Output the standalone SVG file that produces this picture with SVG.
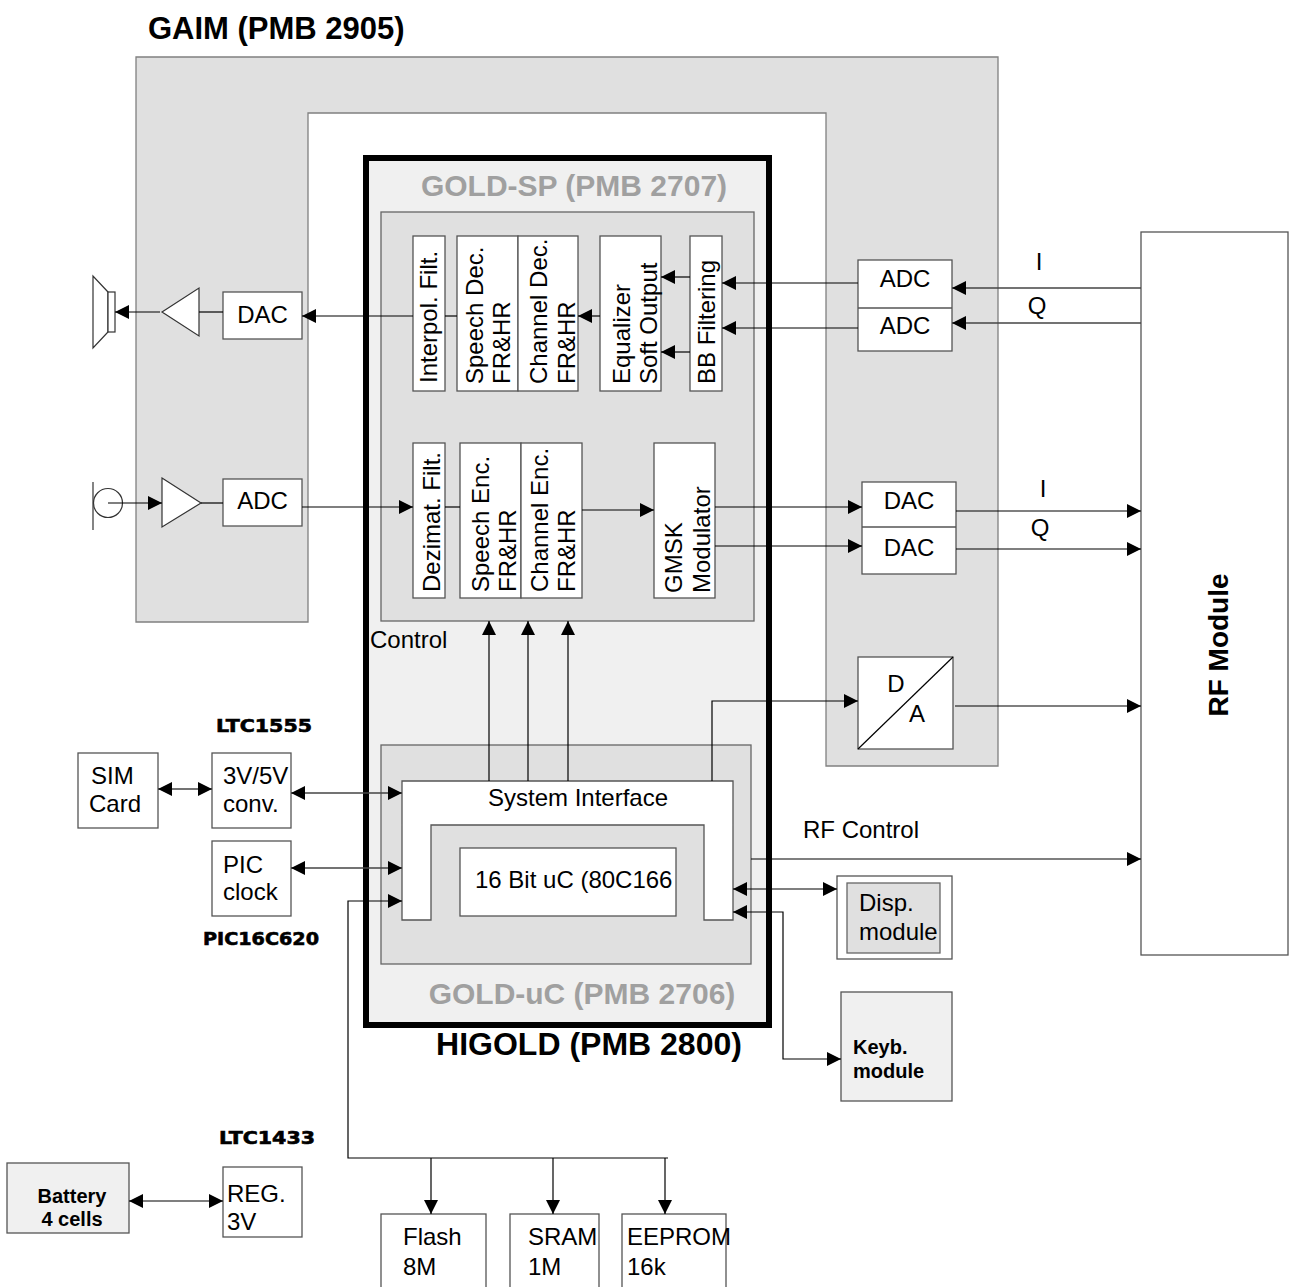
<svg xmlns="http://www.w3.org/2000/svg" width="1290" height="1287" viewBox="0 0 1290 1287">
<defs>
<marker id="ah" viewBox="0 0 14 14" refX="14" refY="7" markerWidth="14" markerHeight="14" markerUnits="userSpaceOnUse" orient="auto-start-reverse"><path d="M0,0 L14,7 L0,14 z" fill="#000"/></marker>
<style>
.t{font-family:"Liberation Sans",Arial,sans-serif;font-size:24px;fill:#000}
.bt{font-family:"Liberation Sans",Arial,sans-serif;font-weight:bold;fill:#000}
.hv{font-family:"DejaVu Sans","Liberation Sans",sans-serif;font-weight:bold;font-size:17px;fill:#000;stroke:#000;stroke-width:0.6}
.gl{font-family:"Liberation Sans",Arial,sans-serif;font-weight:bold;font-size:30px;fill:#a0a0a0}
.box{fill:#fff;stroke:#555;stroke-width:1.3}
.gbox{fill:#e0e0e0;stroke:#666;stroke-width:1.3}
.lbox{fill:#f0f0f0;stroke:#555;stroke-width:1.3}
.c{fill:none;stroke:#000;stroke-width:1.2}
.cg{fill:none;stroke:#444;stroke-width:1.3}
.m{marker-end:url(#ah)}
.mm{marker-start:url(#ah);marker-end:url(#ah)}
</style>
</defs>
<rect width="1290" height="1287" fill="#fff"/>

<g id="gaim">
<path d="M136,57 H998 V766 H826 V113 H308 V622 H136 Z" fill="#e0e0e0" stroke="#808080" stroke-width="1.3"/>
<text x="148" y="39" class="bt" font-size="31">GAIM (PMB 2905)</text>
</g>

<g id="rf-module">
<rect x="1141" y="232" width="147" height="723" class="box"/>
<text transform="translate(1228,645) rotate(-90)" text-anchor="middle" class="bt" font-size="28">RF Module</text>
</g>

<g id="higold">
<rect x="366" y="158" width="403" height="867" fill="#f0f0f0" stroke="#000" stroke-width="6"/>
<text x="589" y="1055" text-anchor="middle" class="bt" font-size="32">HIGOLD (PMB 2800)</text>
</g>

<g id="gold-sp">
<rect x="381" y="212" width="373" height="409" class="gbox"/>
<text x="574" y="196" text-anchor="middle" class="gl">GOLD-SP (PMB 2707)</text>
</g>

<g id="gold-uc">
<rect x="381" y="745" width="370" height="219" class="gbox"/>
<text x="582" y="1004" text-anchor="middle" class="gl">GOLD-uC (PMB 2706)</text>
</g>

<g id="speaker">
<polygon points="108,292 93,276 93,348 108,332" fill="#fff" stroke="#333" stroke-width="1.2"/>
<rect x="108" y="292" width="7" height="40" fill="#fff" stroke="#333" stroke-width="1.2"/>
</g>
<g id="amp-out"><polygon points="162,312 199,288 199,336" fill="#fff" stroke="#333" stroke-width="1.2"/></g>
<g id="dac-left"><rect x="223" y="292" width="79" height="47" class="box"/><text x="262.5" y="323" text-anchor="middle" class="t">DAC</text></g>

<g id="mic">
<line x1="93" y1="482" x2="93" y2="530" stroke="#333" stroke-width="1.2"/>
<circle cx="108" cy="503" r="14.5" fill="#fff" stroke="#333" stroke-width="1.2"/>
</g>
<g id="amp-in"><polygon points="162,478 201,503 162,527" fill="#fff" stroke="#333" stroke-width="1.2"/></g>
<g id="adc-left"><rect x="223" y="479" width="79" height="47" class="box"/><text x="262.5" y="509" text-anchor="middle" class="t">ADC</text></g>

<g id="interpol"><rect x="413" y="236" width="32" height="155" class="box"/><text class="t" transform="translate(437,383) rotate(-90)">Interpol. Filt.</text></g>
<g id="speech-dec"><rect x="457" y="236" width="61" height="155" class="box"/><text class="t" transform="translate(483,384) rotate(-90)">Speech Dec.<tspan x="0" dy="27">FR&amp;HR</tspan></text></g>
<g id="channel-dec"><rect x="518" y="236" width="60" height="155" class="box"/><text class="t" transform="translate(547,384) rotate(-90)">Channel Dec.<tspan x="0" dy="28">FR&amp;HR</tspan></text></g>
<g id="equalizer"><rect x="600" y="236" width="61" height="155" class="box"/><text class="t" transform="translate(630,384) rotate(-90)">Equalizer<tspan x="0" dy="27">Soft Output</tspan></text></g>
<g id="bb-filter"><rect x="690" y="236" width="32" height="155" class="box"/><text class="t" transform="translate(715,384) rotate(-90)">BB Filtering</text></g>

<g id="dezimat"><rect x="413" y="443" width="32" height="155" class="box"/><text class="t" transform="translate(440,592) rotate(-90)">Dezimat. Filt.</text></g>
<g id="speech-enc"><rect x="460" y="443" width="61" height="155" class="box"/><text class="t" transform="translate(489,592) rotate(-90)">Speech Enc.<tspan x="0" dy="27">FR&amp;HR</tspan></text></g>
<g id="channel-enc"><rect x="521" y="443" width="61" height="155" class="box"/><text class="t" transform="translate(548,592) rotate(-90)">Channel Enc.<tspan x="0" dy="27">FR&amp;HR</tspan></text></g>
<g id="gmsk"><rect x="654" y="443" width="61" height="155" class="box"/><text class="t" transform="translate(682,593) rotate(-90)">GMSK<tspan x="0" dy="28">Modulator</tspan></text></g>

<g id="adc-right">
<rect x="858" y="260" width="94" height="91" class="box"/>
<line x1="858" y1="308" x2="952" y2="308" stroke="#555" stroke-width="1.3"/>
<text x="905" y="287" text-anchor="middle" class="t">ADC</text>
<text x="905" y="334" text-anchor="middle" class="t">ADC</text>
</g>
<g id="dac-right">
<rect x="862" y="482" width="94" height="92" class="box"/>
<line x1="862" y1="527" x2="956" y2="527" stroke="#555" stroke-width="1.3"/>
<text x="909" y="509" text-anchor="middle" class="t">DAC</text>
<text x="909" y="556" text-anchor="middle" class="t">DAC</text>
</g>
<g id="da-conv">
<rect x="858" y="657" width="95" height="92" class="box"/>
<line x1="858" y1="749" x2="953" y2="657" stroke="#000" stroke-width="1.2"/>
<text x="896" y="692" text-anchor="middle" class="t">D</text>
<text x="917" y="722" text-anchor="middle" class="t">A</text>
</g>

<g id="system-interface">
<path d="M402,781 H733 V920 H704 V825 H431 V920 H402 Z" fill="#fff" stroke="#555" stroke-width="1.3"/>
<text x="578" y="806" text-anchor="middle" class="t">System Interface</text>
</g>
<g id="cpu">
<rect x="460" y="848" width="216" height="68" class="box"/>
<text x="475" y="888" class="t">16 Bit uC (80C166</text>
</g>

<g id="sim-card"><rect x="78" y="753" width="80" height="75" class="box"/><text x="91" y="784" class="t">SIM<tspan x="89" y="812">Card</tspan></text></g>
<g id="converter"><rect x="212" y="753" width="79" height="75" class="box"/><text x="223" y="784" class="t">3V/5V<tspan x="223" y="812">conv.</tspan></text><text x="264" y="732" text-anchor="middle" class="hv" textLength="96" lengthAdjust="spacingAndGlyphs">LTC1555</text></g>
<g id="pic-clock"><rect x="212" y="841" width="79" height="75" class="box"/><text x="223" y="873" class="t">PIC<tspan x="223" y="900">clock</tspan></text><text x="261" y="945" text-anchor="middle" class="hv" textLength="116" lengthAdjust="spacingAndGlyphs">PIC16C620</text></g>

<g id="disp-module">
<rect x="837" y="876" width="115" height="83" class="box"/>
<rect x="847" y="883" width="93" height="70" class="gbox"/>
<text x="859" y="911" class="t">Disp.<tspan x="859" y="940">module</tspan></text>
</g>
<g id="keyb-module">
<rect x="841" y="992" width="111" height="109" class="lbox"/>
<text x="853" y="1054" class="bt" font-size="20">Keyb.<tspan x="853" y="1078">module</tspan></text>
</g>

<g id="flash"><rect x="381" y="1214" width="105" height="90" class="box"/><text x="403" y="1245" class="t">Flash<tspan x="403" y="1275">8M</tspan></text></g>
<g id="sram"><rect x="510" y="1214" width="89" height="90" class="box"/><text x="528" y="1245" class="t">SRAM<tspan x="528" y="1275">1M</tspan></text></g>
<g id="eeprom"><rect x="622" y="1214" width="104" height="90" class="box"/><text x="627" y="1245" class="t">EEPROM<tspan x="627" y="1275">16k</tspan></text></g>

<g id="battery"><rect x="7" y="1163" width="122" height="70" class="lbox"/><text x="72" y="1203" text-anchor="middle" class="bt" font-size="20">Battery<tspan x="72" y="1226">4 cells</tspan></text></g>
<g id="regulator"><rect x="223" y="1167" width="79" height="70" class="box"/><text x="227" y="1202" class="t">REG.<tspan x="227" y="1230">3V</tspan></text><text x="267" y="1144" text-anchor="middle" class="hv" textLength="96" lengthAdjust="spacingAndGlyphs">LTC1433</text></g>

<g id="labels">
<text x="1039" y="270" text-anchor="middle" class="t">I</text>
<text x="1037" y="314" text-anchor="middle" class="t">Q</text>
<text x="1043" y="497" text-anchor="middle" class="t">I</text>
<text x="1040" y="536" text-anchor="middle" class="t">Q</text>
<text x="370" y="648" class="t">Control</text>
<text x="803" y="838" class="t">RF Control</text>
</g>

<g id="connectors">
<line x1="160" y1="312" x2="115" y2="312" class="c m"/>
<line x1="223" y1="312" x2="199" y2="312" class="c"/>
<line x1="413" y1="316" x2="302" y2="316" class="c m"/>
<line x1="445" y1="316" x2="457" y2="316" class="c"/>
<line x1="600" y1="316" x2="578" y2="316" class="c m"/>
<line x1="690" y1="277" x2="661" y2="277" class="c m"/>
<line x1="690" y1="352" x2="661" y2="352" class="c m"/>
<line x1="858" y1="283" x2="722" y2="283" class="c m"/>
<line x1="858" y1="328" x2="722" y2="328" class="c m"/>
<line x1="1141" y1="288" x2="952" y2="288" class="cg m"/>
<line x1="1141" y1="323" x2="952" y2="323" class="cg m"/>

<line x1="108" y1="503" x2="162" y2="503" class="c m"/>
<line x1="201" y1="503" x2="223" y2="503" class="c"/>
<line x1="302" y1="507" x2="413" y2="507" class="c m"/>
<line x1="445" y1="507" x2="460" y2="507" class="c"/>
<line x1="582" y1="510" x2="654" y2="510" class="c m"/>
<line x1="715" y1="507" x2="862" y2="507" class="c m"/>
<line x1="715" y1="546" x2="862" y2="546" class="c m"/>
<line x1="956" y1="511" x2="1141" y2="511" class="c m"/>
<line x1="956" y1="549" x2="1141" y2="549" class="c m"/>

<line x1="489" y1="781" x2="489" y2="621" class="c m"/>
<line x1="528" y1="781" x2="528" y2="621" class="c m"/>
<line x1="568" y1="781" x2="568" y2="621" class="c m"/>
<path d="M712,781 V701 H858" class="c m"/>
<line x1="955" y1="706" x2="1141" y2="706" class="c m"/>
<line x1="751" y1="859" x2="1141" y2="859" class="c m"/>

<line x1="158" y1="789" x2="212" y2="789" class="cg mm"/>
<line x1="291" y1="793" x2="402" y2="793" class="cg mm"/>
<line x1="291" y1="868" x2="402" y2="868" class="cg mm"/>
<path d="M668,1158 H348 V901 H402" class="c m"/>
<line x1="431" y1="1158" x2="431" y2="1214" class="c m"/>
<line x1="553" y1="1158" x2="553" y2="1214" class="c m"/>
<line x1="665" y1="1158" x2="665" y2="1214" class="c m"/>

<line x1="733" y1="889" x2="837" y2="889" class="c mm"/>
<path d="M733,912 H783 V1059 H841" class="c mm"/>
<line x1="129" y1="1201" x2="223" y2="1201" class="c mm"/>
</g>
</svg>
